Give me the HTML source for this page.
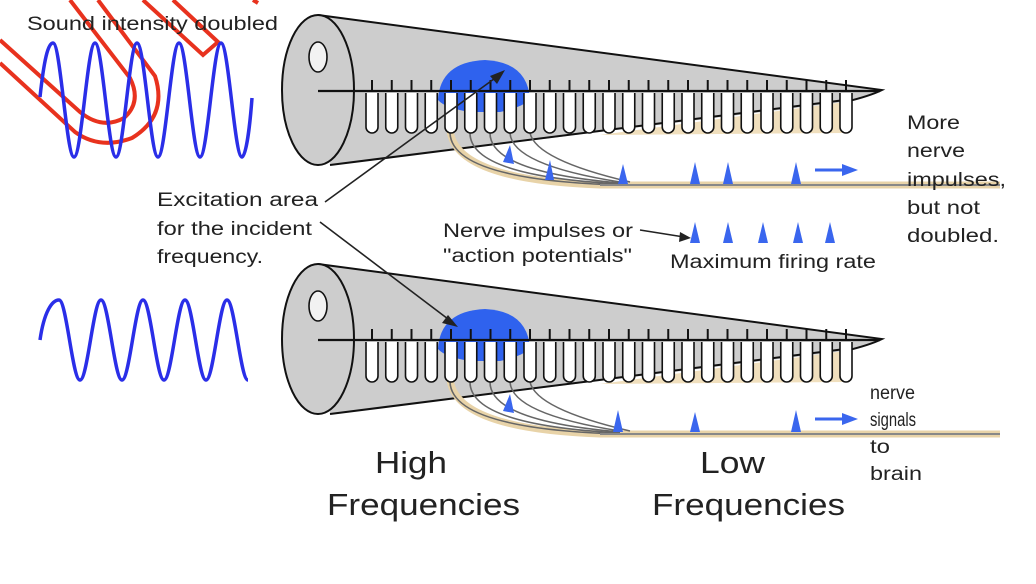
<!DOCTYPE html>
<html><head><meta charset="utf-8"><style>
html,body{margin:0;padding:0;background:#fff}
svg{display:block}
text{font-family:"Liberation Sans",sans-serif;fill:#222}
</style></head><body>
<svg width="1036" height="584" viewBox="0 0 1036 584" xmlns="http://www.w3.org/2000/svg">
<defs>
<g id="coch">
  <path d="M318,15 L882,90 Q870,96 845,102 L330,165 Z" fill="#cdcdcd"/>
  <path d="M600,135 L845,102 L845,133 Z" fill="#f0dfbd"/>
  <path d="M318,15 L882,90 Q870,96 845,102 M330,165 L845,100" fill="none" stroke="#111" stroke-width="2"/>
  <ellipse cx="318" cy="90" rx="36" ry="75" fill="#cdcdcd" stroke="#111" stroke-width="2"/>
  <ellipse cx="318" cy="57" rx="9" ry="15" fill="#f2f2f2" stroke="#111" stroke-width="1.6"/>
  <path d="M438,100 Q440,62 485,60 Q528,62 530,100 Q520,108 500,112 L470,112 Q445,108 438,100Z" fill="#2f62ee"/>
  <path d="M450,130 Q455,180 600,185 L1000,185" fill="none" stroke="#e8d3a8" stroke-width="7"/>
  <g fill="none" stroke="#666" stroke-width="1.6">
    <path d="M450,133 Q452,180 620,185"/>
    <path d="M470,133 Q470,176 620,184"/>
    <path d="M490,133 Q490,172 620,183"/>
    <path d="M510,133 Q512,165 620,182"/>
    <path d="M530,133 Q536,160 630,182"/>
  </g>
  <line x1="600" y1="185" x2="1000" y2="185" stroke="#888" stroke-width="2"/>
  <line x1="318" y1="91" x2="880" y2="91" stroke="#111" stroke-width="2.2"/>
  <g fill="#fff" stroke="#111" stroke-width="1.6">
    <path d="M366,93 v34 a6,6 0 0 0 12,0 v-34"/><path d="M385.75,93 v34 a6,6 0 0 0 12,0 v-34"/>
    <path d="M405.5,93 v34 a6,6 0 0 0 12,0 v-34"/><path d="M425.25,93 v34 a6,6 0 0 0 12,0 v-34"/>
    <path d="M445,93 v34 a6,6 0 0 0 12,0 v-34"/><path d="M464.75,93 v34 a6,6 0 0 0 12,0 v-34"/>
    <path d="M484.5,93 v34 a6,6 0 0 0 12,0 v-34"/><path d="M504.25,93 v34 a6,6 0 0 0 12,0 v-34"/>
    <path d="M524,93 v34 a6,6 0 0 0 12,0 v-34"/><path d="M543.75,93 v34 a6,6 0 0 0 12,0 v-34"/>
    <path d="M563.5,93 v34 a6,6 0 0 0 12,0 v-34"/><path d="M583.25,93 v34 a6,6 0 0 0 12,0 v-34"/>
    <path d="M603,93 v34 a6,6 0 0 0 12,0 v-34"/><path d="M622.75,93 v34 a6,6 0 0 0 12,0 v-34"/>
    <path d="M642.5,93 v34 a6,6 0 0 0 12,0 v-34"/><path d="M662.25,93 v34 a6,6 0 0 0 12,0 v-34"/>
    <path d="M682,93 v34 a6,6 0 0 0 12,0 v-34"/><path d="M701.75,93 v34 a6,6 0 0 0 12,0 v-34"/>
    <path d="M721.5,93 v34 a6,6 0 0 0 12,0 v-34"/><path d="M741.25,93 v34 a6,6 0 0 0 12,0 v-34"/>
    <path d="M761,93 v34 a6,6 0 0 0 12,0 v-34"/><path d="M780.75,93 v34 a6,6 0 0 0 12,0 v-34"/>
    <path d="M800.5,93 v34 a6,6 0 0 0 12,0 v-34"/><path d="M820.25,93 v34 a6,6 0 0 0 12,0 v-34"/>
    <path d="M840,93 v34 a6,6 0 0 0 12,0 v-34"/>
  </g>
  <path stroke="#111" stroke-width="2" d="M372,80V91M391.75,80V91M411.5,80V91M431.25,80V91M451,80V91M470.75,80V91M490.5,80V91M510.25,80V91M530,80V91M549.75,80V91M569.5,80V91M589.25,80V91M609,80V91M628.75,80V91M648.5,80V91M668.25,80V91M688,80V91M707.75,80V91M727.5,80V91M747.25,80V91M767,80V91M786.75,80V91M806.5,80V91M826.25,80V91M846,80V91"/>
  <path d="M815,170 H845" stroke="#3a66ee" stroke-width="3"/>
  <path d="M842,164 L858,170 L842,176Z" fill="#3a66ee"/>
</g>
</defs>

<!-- red clip -->
<g fill="none" stroke="#e8321e" stroke-width="4">
  <path d="M0,40 L80,112 Q102,130 124,118 Q142,102 130,78 L70,0"/>
  <path d="M0,63 L75,132 Q100,150 132,138 Q168,116 155,76 L98,0"/>
  <path d="M143,0 L203,55 L218,42 L173,0"/>
  <path d="M253,0 L258,3"/>
</g>
<text x="27" y="30" font-size="19" textLength="251" lengthAdjust="spacingAndGlyphs">Sound intensity doubled</text>

<path d="M40,97 C44,60 48,43 53,43 C60.6,43 66.4,157 74,157 C81.6,157 87.4,43 95,43 C102.6,43 108.4,157 116,157 C123.6,157 129.4,43 137,43 C144.6,43 150.4,157 158,157 C165.6,157 171.4,43 179,43 C186.6,43 192.4,157 200,157 C207.6,157 213.4,43 221,43 C228.6,43 234.4,157 242,157 C246,157 250,125 252,98" fill="none" stroke="#2a2ee8" stroke-width="3.5"/>
<path d="M40,340 C44,312 52,300 59,300 C66.6,300 72.4,380 80,380 C87.6,380 93.4,300 101,300 C108.6,300 114.4,380 122,380 C129.6,380 135.4,300 143,300 C150.6,300 156.4,380 164,380 C171.6,380 177.4,300 185,300 C192.6,300 198.4,380 206,380 C213.6,380 219.4,300 227,300 C234.6,300 240.4,380 248,380" fill="none" stroke="#2a2ee8" stroke-width="3.5"/>

<use href="#coch"/>
<g fill="#3a66ee">
  <path d="M503,162 L510,145 L514,164Z"/>
  <path d="M545,180 L550,160 L554,180Z"/>
  <path d="M618,184 L623,164 L628,184Z"/>
  <path d="M690,184 L695,162 L700,184Z"/>
  <path d="M723,184 L728,162 L733,184Z"/>
  <path d="M791,184 L796,162 L801,184Z"/>
</g>
<use href="#coch" transform="translate(0,249)"/>
<g fill="#3a66ee">
  <path d="M503,411 L510,394 L514,413Z"/>
  <path d="M613,432 L618,410 L623,432Z"/>
  <path d="M690,432 L695,412 L700,432Z"/>
  <path d="M791,432 L796,410 L801,432Z"/>
  <path d="M690,243 L695,222 L700,243Z"/>
  <path d="M723,243 L728,222 L733,243Z"/>
  <path d="M758,243 L763,222 L768,243Z"/>
  <path d="M793,243 L798,222 L803,243Z"/>
  <path d="M825,243 L830,222 L835,243Z"/>
</g>

<g stroke="#222" stroke-width="1.6" fill="none">
  <path d="M325,202 L498,76"/>
  <path d="M320,222 L452,322"/>
  <path d="M640,230 L684,237"/>
</g>
<path d="M505,70 L490,76 L497,84Z" fill="#222"/>
<path d="M458,327 L442,323 L448,315Z" fill="#222"/>
<path d="M691,238 L680,232 L679,242Z" fill="#222"/>

<g font-size="19" lengthAdjust="spacingAndGlyphs">
<text x="157" y="206" textLength="161" lengthAdjust="spacingAndGlyphs">Excitation area</text>
<text x="157" y="235" textLength="155" lengthAdjust="spacingAndGlyphs">for the incident</text>
<text x="157" y="263" textLength="106" lengthAdjust="spacingAndGlyphs">frequency.</text>
<text x="443" y="237" textLength="190" lengthAdjust="spacingAndGlyphs">Nerve impulses or</text>
<text x="443" y="262" textLength="189" lengthAdjust="spacingAndGlyphs">"action potentials"</text>
<text x="670" y="268" textLength="206" lengthAdjust="spacingAndGlyphs">Maximum firing rate</text>
<text x="907" y="129" textLength="53" lengthAdjust="spacingAndGlyphs">More</text>
<text x="907" y="157" textLength="58" lengthAdjust="spacingAndGlyphs">nerve</text>
<text x="907" y="186" textLength="99" lengthAdjust="spacingAndGlyphs">impulses,</text>
<text x="907" y="214" textLength="73" lengthAdjust="spacingAndGlyphs">but not</text>
<text x="907" y="242" textLength="92" lengthAdjust="spacingAndGlyphs">doubled.</text>
<text x="870" y="399" textLength="45" lengthAdjust="spacingAndGlyphs">nerve</text>
<text x="870" y="426" textLength="46" lengthAdjust="spacingAndGlyphs">signals</text>
<text x="870" y="453" textLength="20" lengthAdjust="spacingAndGlyphs">to</text>
<text x="870" y="480" textLength="52" lengthAdjust="spacingAndGlyphs">brain</text>
</g>
<g font-size="31">
<text x="375" y="473" textLength="72" lengthAdjust="spacingAndGlyphs">High</text>
<text x="327" y="515" textLength="193" lengthAdjust="spacingAndGlyphs">Frequencies</text>
<text x="700" y="473" textLength="65" lengthAdjust="spacingAndGlyphs">Low</text>
<text x="652" y="515" textLength="193" lengthAdjust="spacingAndGlyphs">Frequencies</text>
</g>
</svg>
</body></html>
